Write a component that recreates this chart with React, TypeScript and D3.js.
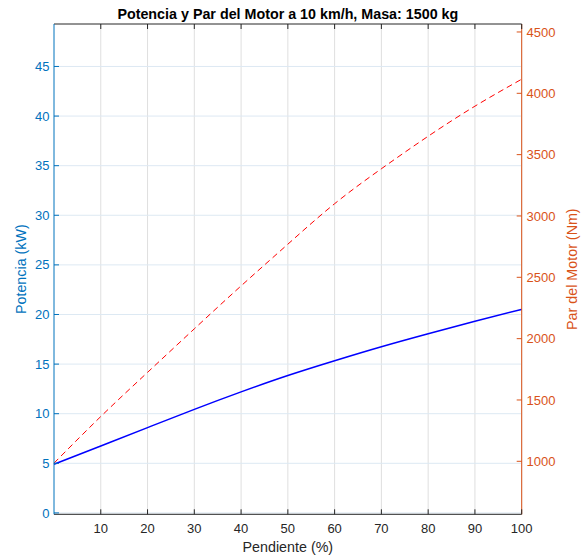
import React, { useEffect, useRef } from 'react';
import * as d3 from 'd3';

// Pendiente (%)
const pendiente = [0, 10, 20, 30, 40, 50, 60, 70, 80, 90, 100];
// Potencia (kW)
const potencia = [4.9, 6.75, 8.6, 10.44, 12.2, 13.85, 15.34, 16.75, 18.06, 19.32, 20.52];
// Par del motor (Nm)
const par = [985, 1365, 1725, 2080, 2430, 2770, 3100, 3385, 3650, 3895, 4115];

const xTicks = [10, 20, 30, 40, 50, 60, 70, 80, 90, 100];
const leftTicks = [0, 5, 10, 15, 20, 25, 30, 35, 40, 45];
const rightTicks = [1000, 1500, 2000, 2500, 3000, 3500, 4000, 4500];

const W = 586;
const H = 557;
const FONT = '"Liberation Sans", Arial, Helvetica, sans-serif';
const BLUE_AX = '#0072BD';
const ORANGE_AX = '#D95319';
const DARK = '#262626';

const App = () => {
  const svgRef = useRef<SVGSVGElement | null>(null);

  useEffect(() => {
    const svg = d3.select(svgRef.current);
    svg.selectAll('*').remove();

    const left = 54, right = 521.7, top = 24, bottom = 514.3;

    const x = d3.scaleLinear().domain([0, 100]).range([left, right]);
    const yL = d3.scaleLinear().domain([-0.14, 49.28]).range([bottom, top]);
    const yR = d3.scaleLinear().domain([568, 4565]).range([bottom, top]);

    svg.append('rect').attr('width', W).attr('height', H).attr('fill', '#fff');

    // grid
    const grid = svg.append('g');
    grid.selectAll('line.v')
      .data(xTicks)
      .enter()
      .append('line')
      .attr('x1', d => x(d)).attr('x2', d => x(d))
      .attr('y1', top).attr('y2', bottom)
      .attr('stroke', '#dfdfdf')
      .attr('stroke-width', 1);
    grid.selectAll('line.h')
      .data(leftTicks)
      .enter()
      .append('line')
      .attr('x1', left).attr('x2', right)
      .attr('y1', d => yL(d)).attr('y2', d => yL(d))
      .attr('stroke', '#dde9f3')
      .attr('stroke-width', 1);

    // lines
    const linePot = d3.line<number>()
      .x((d, i) => x(pendiente[i]))
      .y(d => yL(d))
      .curve(d3.curveNatural);
    const linePar = d3.line<number>()
      .x((d, i) => x(pendiente[i]))
      .y(d => yR(d))
      .curve(d3.curveNatural);

    svg.append('path')
      .attr('d', linePot(potencia))
      .attr('fill', 'none')
      .attr('stroke', '#0000ff')
      .attr('stroke-width', 1.5);
    svg.append('path')
      .attr('d', linePar(par))
      .attr('fill', 'none')
      .attr('stroke', '#ff0000')
      .attr('stroke-width', 1)
      .attr('stroke-dasharray', '6,4');

    // box lines
    svg.append('line')
      .attr('x1', left).attr('x2', right).attr('y1', top).attr('y2', top)
      .attr('stroke', DARK).attr('stroke-width', 1);
    svg.append('line')
      .attr('x1', left).attr('x2', right).attr('y1', bottom).attr('y2', bottom)
      .attr('stroke', DARK).attr('stroke-width', 1);
    svg.append('line')
      .attr('x1', left).attr('x2', left).attr('y1', top).attr('y2', bottom)
      .attr('stroke', BLUE_AX).attr('stroke-width', 1);
    svg.append('line')
      .attr('x1', right).attr('x2', right).attr('y1', top).attr('y2', bottom)
      .attr('stroke', ORANGE_AX).attr('stroke-width', 1);

    // x ticks (inside, top and bottom)
    const xt = svg.append('g');
    xTicks.forEach(t => {
      xt.append('line')
        .attr('x1', x(t)).attr('x2', x(t))
        .attr('y1', bottom).attr('y2', bottom - 5)
        .attr('stroke', DARK);
      xt.append('line')
        .attr('x1', x(t)).attr('x2', x(t))
        .attr('y1', top).attr('y2', top + 5)
        .attr('stroke', DARK);
      xt.append('text')
        .attr('x', x(t)).attr('y', 533)
        .attr('text-anchor', 'middle')
        .attr('font-family', FONT).attr('font-size', 13)
        .attr('fill', DARK)
        .text(t);
    });

    // left ticks
    const lt = svg.append('g');
    leftTicks.forEach(t => {
      lt.append('line')
        .attr('x1', left).attr('x2', left + 5)
        .attr('y1', yL(t)).attr('y2', yL(t))
        .attr('stroke', BLUE_AX);
      lt.append('text')
        .attr('x', 49.5).attr('y', yL(t) + 4.6)
        .attr('text-anchor', 'end')
        .attr('font-family', FONT).attr('font-size', 13)
        .attr('fill', BLUE_AX)
        .text(t);
    });

    // right ticks
    const rt = svg.append('g');
    rightTicks.forEach(t => {
      rt.append('line')
        .attr('x1', right).attr('x2', right - 5)
        .attr('y1', yR(t)).attr('y2', yR(t))
        .attr('stroke', ORANGE_AX);
      rt.append('text')
        .attr('x', 526.5).attr('y', yR(t) + 4.6)
        .attr('text-anchor', 'start')
        .attr('font-family', FONT).attr('font-size', 13)
        .attr('fill', ORANGE_AX)
        .text(t);
    });

    // labels
    svg.append('text')
      .attr('x', (left + right) / 2).attr('y', 19)
      .attr('text-anchor', 'middle')
      .attr('font-family', FONT).attr('font-size', 14.3).attr('font-weight', 'bold')
      .attr('fill', '#000')
      .text('Potencia y Par del Motor a 10 km/h, Masa: 1500 kg');
    svg.append('text')
      .attr('x', (left + right) / 2).attr('y', 551.5)
      .attr('text-anchor', 'middle')
      .attr('font-family', FONT).attr('font-size', 14.3)
      .attr('fill', DARK)
      .text('Pendiente (%)');
    svg.append('text')
      .attr('transform', `translate(26,${(top + bottom) / 2}) rotate(-90)`)
      .attr('text-anchor', 'middle')
      .attr('font-family', FONT).attr('font-size', 14.3)
      .attr('fill', BLUE_AX)
      .text('Potencia (kW)');
    svg.append('text')
      .attr('transform', `translate(576.5,${(top + bottom) / 2}) rotate(-90)`)
      .attr('text-anchor', 'middle')
      .attr('font-family', FONT).attr('font-size', 14.3)
      .attr('fill', ORANGE_AX)
      .text('Par del Motor (Nm)');
  }, []);

  return (
    <svg
      ref={svgRef}
      width={W}
      height={H}
      style={{ position: 'absolute', left: 0, top: 0 }}
    />
  );
};

export default App;
